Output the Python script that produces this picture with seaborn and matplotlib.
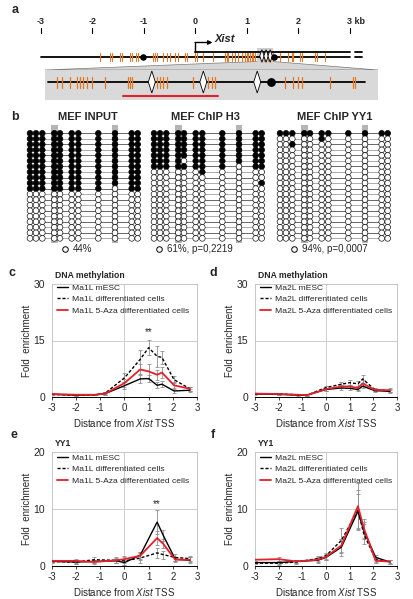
import numpy as np
import pandas as pd
import matplotlib
matplotlib.use("Agg")
import matplotlib.pyplot as plt
import seaborn as sns
from matplotlib.patches import Polygon, Rectangle

sns.set_theme(style="white")
plt.rcParams["font.family"] = ["Liberation Sans", "DejaVu Sans"]
plt.rcParams["axes.unicode_minus"] = False
plt.rcParams["mathtext.fontset"] = "custom"
plt.rcParams["mathtext.it"] = "Liberation Sans:italic"
plt.rcParams["mathtext.rm"] = "Liberation Sans"

# ---------------- data ----------------
scale_kb = [-3, -2, -1, 0, 1, 2, 3]
scale_labels = ["-3", "-2", "-1", "0", "1", "2", "3 kb"]
cpg_main_kb = [-1.85, -1.66, -1.62, -1.47, -1.43, -1.27, -1.23, -1.16, -1.12, -0.83, -0.79,
               -0.75, -0.63, -0.55, -0.50, -0.40, -0.34, -0.20, -0.17, -0.01, 0.03, 0.15,
               0.34, 0.57, 0.61, 0.63, 0.71, 0.77, 0.83, 0.90, 0.96, 1.00, 1.02, 1.06, 1.10,
               1.12, 1.16, 1.33, 1.41, 1.50, 1.64, 1.80, 1.87, 1.89, 2.03, 2.07, 2.32, 2.36, 2.51]
yy1_main_kb = [1.29, 1.37, 1.45]
dot_main_kb = [-1.02, 1.52]
zoom_kb = [1.19, 1.50]
cpg_zoom_bp = [11, 18, 28, 37, 40, 44, 49, 56, 72, 101, 103, 106, 138, 141, 145, 150, 183,
               202, 207, 211, 299, 309, 315, 320, 356, 385, 387]
yy1_zoom_bp = [131, 196, 264]
dot_zoom_bp = [281]
amplicon_bp = [95, 215]
zoom_len_bp = 400

bs_titles = ["MEF INPUT", "MEF ChIP H3", "MEF ChIP YY1"]
bs_labels = ["44%", "61%, p=0,2219", "94%, p=0,0007"]
bs_cols = [0, 6, 12.3, 24.3, 30, 41.7, 48.3, 68.3, 85, 101.7, 107.7]
bs_motif_cols = [3, 8]
bs_input = ["11111111111"] * 10 + ["11111111011"] + ["00000000000"] * 9
bs_h3 = (["11111111111"] * 5 + ["11110111111", "11111111011", "00000010000",
                                  "00000000000", "00000000001"] + ["00000000000"] * 10)
bs_yy1 = ["11111111111", "00000100000", "00100000000"] + ["00000000000"] * 17

meth_x = [-3, -2, -1.2, -0.8, 0, 0.65, 1, 1.35, 1.55, 2.05, 2.7]
c_mesc = [0.7, 0.5, 0.6, 0.9, 3.0, 4.8, 4.9, 3.1, 3.4, 1.6, 1.8]
c_diff = [0.7, 0.5, 0.6, 1.0, 5.1, 10.0, 13.1, 10.8, 10.5, 4.6, 2.2]
c_aza = [0.8, 0.6, 0.6, 0.9, 3.7, 7.3, 6.8, 5.9, 6.5, 3.1, 2.2]
c_mesc_err = [0.2, 0.2, 0.2, 0.3, 1.0, 1.2, 1.0, 0.8, 0.8, 0.5, 0.4]
c_diff_err = [0.2, 0.2, 0.2, 0.3, 1.2, 2.5, 2.0, 2.8, 1.8, 1.0, 0.5]
c_aza_err = [0.2, 0.2, 0.2, 0.3, 1.0, 1.5, 2.0, 1.3, 1.5, 0.8, 0.5]

d_mesc = [0.8, 0.7, 0.5, 0.5, 2.0, 2.4, 2.3, 2.0, 2.9, 1.7, 1.5]
d_diff = [0.9, 0.8, 0.6, 0.5, 2.5, 3.4, 3.8, 3.5, 4.8, 2.0, 1.6]
d_aza = [0.9, 0.8, 0.6, 0.5, 2.1, 2.8, 2.8, 2.4, 3.6, 1.9, 1.8]
d_mesc_err = [0.2, 0.2, 0.2, 0.2, 0.4, 0.5, 0.5, 0.5, 0.6, 0.3, 0.4]
d_diff_err = [0.2, 0.2, 0.2, 0.2, 0.5, 0.6, 0.7, 0.7, 1.0, 0.4, 0.4]
d_aza_err = [0.2, 0.2, 0.2, 0.2, 0.4, 0.5, 0.5, 0.5, 0.8, 0.4, 0.5]

yy_x = [-3, -2, -1.25, -0.35, 0, 0.65, 1.35, 1.6, 2.1, 2.7]
e_mesc = [0.8, 0.7, 0.8, 0.9, 0.6, 1.9, 7.7, 5.4, 1.2, 1.0]
e_diff = [0.8, 0.7, 1.1, 1.0, 0.9, 1.4, 2.3, 2.0, 1.5, 1.3]
e_aza = [0.9, 0.9, 0.7, 1.0, 1.2, 1.8, 4.9, 3.9, 1.1, 1.1]
e_mesc_err = [0.2, 0.4, 0.3, 0.4, 0.4, 0.6, 2.1, 1.0, 0.3, 0.5]
e_diff_err = [0.2, 0.4, 0.5, 0.5, 0.7, 0.9, 0.9, 0.7, 0.6, 0.5]
e_aza_err = [0.2, 0.3, 0.3, 0.4, 0.6, 0.7, 1.2, 0.8, 0.4, 0.4]

f_mesc = [0.6, 0.6, 0.8, 1.0, 1.5, 3.3, 9.6, 6.2, 1.5, 0.7]
f_diff = [0.5, 0.5, 0.7, 1.3, 1.8, 4.5, 9.8, 5.6, 1.1, 0.7]
f_aza = [1.1, 1.2, 0.8, 1.1, 1.6, 3.6, 10.5, 6.6, 0.9, 0.8]
f_mesc_err = [0.2, 0.3, 0.3, 0.4, 0.4, 1.5, 3.0, 1.5, 0.4, 0.3]
f_diff_err = [0.2, 0.3, 0.3, 0.4, 0.5, 2.2, 3.5, 1.8, 0.4, 0.3]
f_aza_err = [0.2, 0.3, 0.3, 0.4, 0.5, 1.2, 4.0, 1.6, 0.4, 0.3]

# ---------------- figure ----------------
W, H = 414, 599
fig = plt.figure(figsize=(W / 100, H / 100), dpi=100)
ov = fig.add_axes([0, 0, 1, 1])
ov.set_xlim(0, W)
ov.set_ylim(H, 0)
ov.set_axis_off()

ORANGE = "#e8761e"

def kb2px(kb):
    return 41 + (kb + 3) * 51.5

def bp2px(bp):
    return 48 + bp * 317 / zoom_len_bp

def diamond(ax, cx, cy, hw, hh, z=5):
    ax.add_patch(Polygon([(cx - hw, cy), (cx, cy - hh), (cx + hw, cy), (cx, cy + hh)],
                         closed=True, fc="white", ec="black", lw=0.6, zorder=z))

# panel a
for kb, lab in zip(scale_kb, scale_labels):
    x = kb2px(kb)
    ov.plot([x, x], [28, 33], color="black", lw=0.8)
    is_kb = lab.endswith("kb")
    ov.text(x - 3 if is_kb else x, 21, lab, ha="left" if is_kb else "center",
            va="center", fontsize=6.5, fontweight="bold")
bx0, bx1 = kb2px(zoom_kb[0]), kb2px(zoom_kb[1])
ov.add_patch(Polygon([(45, 70), (bx0, 61.5), (bx1, 61.5), (378, 70)], closed=True,
                     fc="#d6d6d6", ec="#7a7a7a", lw=0.5, zorder=1))
ov.add_patch(Rectangle((bx0, 48), bx1 - bx0, 13.5, fc="#cfcfcf", ec="none", zorder=1))
ov.add_patch(Rectangle((45, 70), 333, 30, fc="#d9d9d9", ec="none", zorder=1))
ov.plot([kb2px(-3), kb2px(3)], [57, 57], color="black", lw=1.3, zorder=3)
ov.plot([kb2px(0), kb2px(3)], [51.5, 51.5], color="black", lw=1.3, zorder=3)
for yy in (51.5, 57):
    ov.plot([355, 362], [yy, yy], color="black", lw=1.3, zorder=3)
for kb in cpg_main_kb:
    ov.plot([kb2px(kb)] * 2, [53, 61], color=ORANGE, lw=0.8, zorder=4)
for kb in yy1_main_kb:
    diamond(ov, kb2px(kb), 56, 2.2, 6.3)
ov.scatter([kb2px(k) for k in dot_main_kb], [57] * len(dot_main_kb), s=22, color="black",
           zorder=6, lw=0)
x0 = kb2px(0)
ov.plot([x0, x0], [52, 42.5], color="black", lw=1.0, zorder=4)
ov.annotate("", xy=(x0 + 17, 42.5), xytext=(x0 - 0.5, 42.5),
            arrowprops=dict(arrowstyle="-|>", color="black", lw=1.0,
                            mutation_scale=6, shrinkA=0, shrinkB=0))
ov.text(x0 + 19, 38.5, "Xist", fontsize=8, fontweight="bold", fontstyle="italic",
        ha="left", va="center")
ov.plot([48, 365], [82, 82], color="black", lw=1.3, zorder=3)
for bp in cpg_zoom_bp:
    ov.plot([bp2px(bp)] * 2, [77, 88], color=ORANGE, lw=0.9, zorder=4)
for bp in yy1_zoom_bp:
    diamond(ov, bp2px(bp), 82, 3.5, 11)
ov.scatter([bp2px(b) for b in dot_zoom_bp], [82] * len(dot_zoom_bp), s=40, color="black",
           zorder=6, lw=0)
ov.plot([bp2px(amplicon_bp[0]), bp2px(amplicon_bp[1])], [96, 96], color="#e4212b",
        lw=1.5, zorder=4)

# panel b
grid_x0 = [30, 154, 280]
row0, pitch = 133.3, 5.53
centers = [88, 205, 335]
label_x = [73, 167, 302]
for gx, title, lab, mat, cx, lx in zip(grid_x0, bs_titles, bs_labels,
                                       [bs_input, bs_h3, bs_yy1], centers, label_x):
    ov.text(cx, 117.5, title, ha="center", va="center", fontsize=8, fontweight="bold")
    for ci in bs_motif_cols:
        ov.add_patch(Rectangle((gx + bs_cols[ci] - 3.4, 125), 6.8, 118, fc="#b5b5b5",
                               ec="none", zorder=1))
    for r in range(len(mat)):
        y = row0 + r * pitch
        ov.plot([gx - 2, gx + bs_cols[-1] + 2], [y, y],
                color="#2b2b2b" if r % 2 == 0 else "#8a8a8a", lw=0.5, zorder=2)
    xs, ys, fc = [], [], []
    for r, row in enumerate(mat):
        for ci, ch in enumerate(row):
            xs.append(gx + bs_cols[ci])
            ys.append(row0 + r * pitch)
            fc.append("black" if ch == "1" else "white")
    ov.scatter(xs, ys, s=17, c=fc, edgecolors="black", linewidths=0.45, zorder=3)
    ov.scatter([lx - 7.5], [249], s=16, facecolors="white", edgecolors="black",
               linewidths=0.7, zorder=3)
    ov.text(lx, 249, lab, ha="left", va="center", fontsize=7)

# panel labels
for lab, (px, py) in zip("abcdef", [(15, 10), (15, 117), (12, 273), (213, 273),
                                   (14, 435), (213, 435)]):
    ov.text(px, py, lab, fontsize=9, fontweight="bold", ha="center", va="center")

# panels c-f
def panel(rect_px, x, series, errs, labels, ymax, yticks, title, star, legend_y):
    l, r, t, b = rect_px
    ax = fig.add_axes([l / W, (H - b) / H, (r - l) / W, (b - t) / H])
    colors = ["black", "black", "#e4212b"]
    for ser, err in zip(series, errs):
        ax.errorbar(x, ser, yerr=err, fmt="none", ecolor="#8f8f8f", elinewidth=0.6,
                    capsize=1.2, capthick=0.6, zorder=2)
    df = pd.DataFrame({
        "pos": list(x) * 3,
        "val": series[0] + series[1] + series[2],
        "series": [labels[0]] * len(x) + [labels[1]] * len(x) + [labels[2]] * len(x),
    })
    sns.lineplot(data=df, x="pos", y="val", hue="series", style="series", size="series",
                 palette=dict(zip(labels, colors)),
                 dashes={labels[0]: "", labels[1]: (2.2, 1.4), labels[2]: ""},
                 sizes={labels[0]: 1.0, labels[1]: 1.0, labels[2]: 1.3},
                 estimator=None, sort=False, ax=ax, zorder=3)
    ax.set_xlim(-3, 3)
    ax.set_ylim(0, ymax)
    ax.set_xticks(range(-3, 4))
    ax.set_xticklabels([str(v) for v in range(-3, 4)], fontsize=7)
    ax.set_yticks(yticks)
    ax.set_yticklabels([str(v) for v in yticks], fontsize=7.5)
    ax.tick_params(axis="x", length=2.5, width=0.6, pad=2, direction="out", bottom=True)
    ax.tick_params(axis="y", length=0, pad=5)
    ax.axhline(yticks[1], color="#cfcfcf", lw=0.7, zorder=1)
    ax.axvline(0, color="#cfcfcf", lw=0.7, zorder=1)
    for s in ["top", "right", "left"]:
        ax.spines[s].set_color("#bdbdbd")
        ax.spines[s].set_linewidth(0.6)
    ax.spines["bottom"].set_color("black")
    ax.spines["bottom"].set_linewidth(0.7)
    ax.set_xlabel("Distance from $\\it{Xist}$ TSS", fontsize=7)
    ax.set_ylabel("Fold  enrichment", fontsize=7)
    ax.xaxis.set_label_coords(0.5, -20 / (b - t))
    ax.yaxis.set_label_coords(-20 / (r - l), 0.5)
    ax.text(3 / (r - l), 1 + 4 / (b - t), title, transform=ax.transAxes, fontsize=6.2,
            fontweight="bold", ha="left", va="bottom")
    if star is not None:
        ax.text(star[0], star[1], "**", ha="center", va="center", fontsize=7)
    sns.move_legend(ax, "upper left", bbox_to_anchor=(5 / (r - l), 1 - legend_y / (b - t)),
                    frameon=False, title=None, fontsize=6.1, handlelength=1.3,
                    handletextpad=0.5, labelspacing=0.42, borderpad=0, borderaxespad=0)
    return ax

panel((52, 197, 284, 397), meth_x, [c_mesc, c_diff, c_aza],
      [c_mesc_err, c_diff_err, c_aza_err],
      ["Ma1L mESC", "Ma1L differentiated cells", "Ma1L 5-Aza differentiated cells"],
      30, [0, 15, 30], "DNA methylation", (1, 17.3), 0)
panel((255, 397, 284, 397), meth_x, [d_mesc, d_diff, d_aza],
      [d_mesc_err, d_diff_err, d_aza_err],
      ["Ma2L mESC", "Ma2L differentiated cells", "Ma2L 5-Aza differentiated cells"],
      30, [0, 15, 30], "DNA methylation", None, 0)
panel((52, 197, 452, 566), yy_x, [e_mesc, e_diff, e_aza],
      [e_mesc_err, e_diff_err, e_aza_err],
      ["Ma1L mESC", "Ma1L differentiated cells", "Ma1L 5-Aza differentiated cells"],
      20, [0, 10, 20], "YY1", (1.35, 10.9), 2)
panel((255, 397, 452, 566), yy_x, [f_mesc, f_diff, f_aza],
      [f_mesc_err, f_diff_err, f_aza_err],
      ["Ma2L mESC", "Ma2L differentiated cells", "Ma2L 5-Aza differentiated cells"],
      20, [0, 10, 20], "YY1", None, 2)

fig.savefig("out.png", dpi=100)
